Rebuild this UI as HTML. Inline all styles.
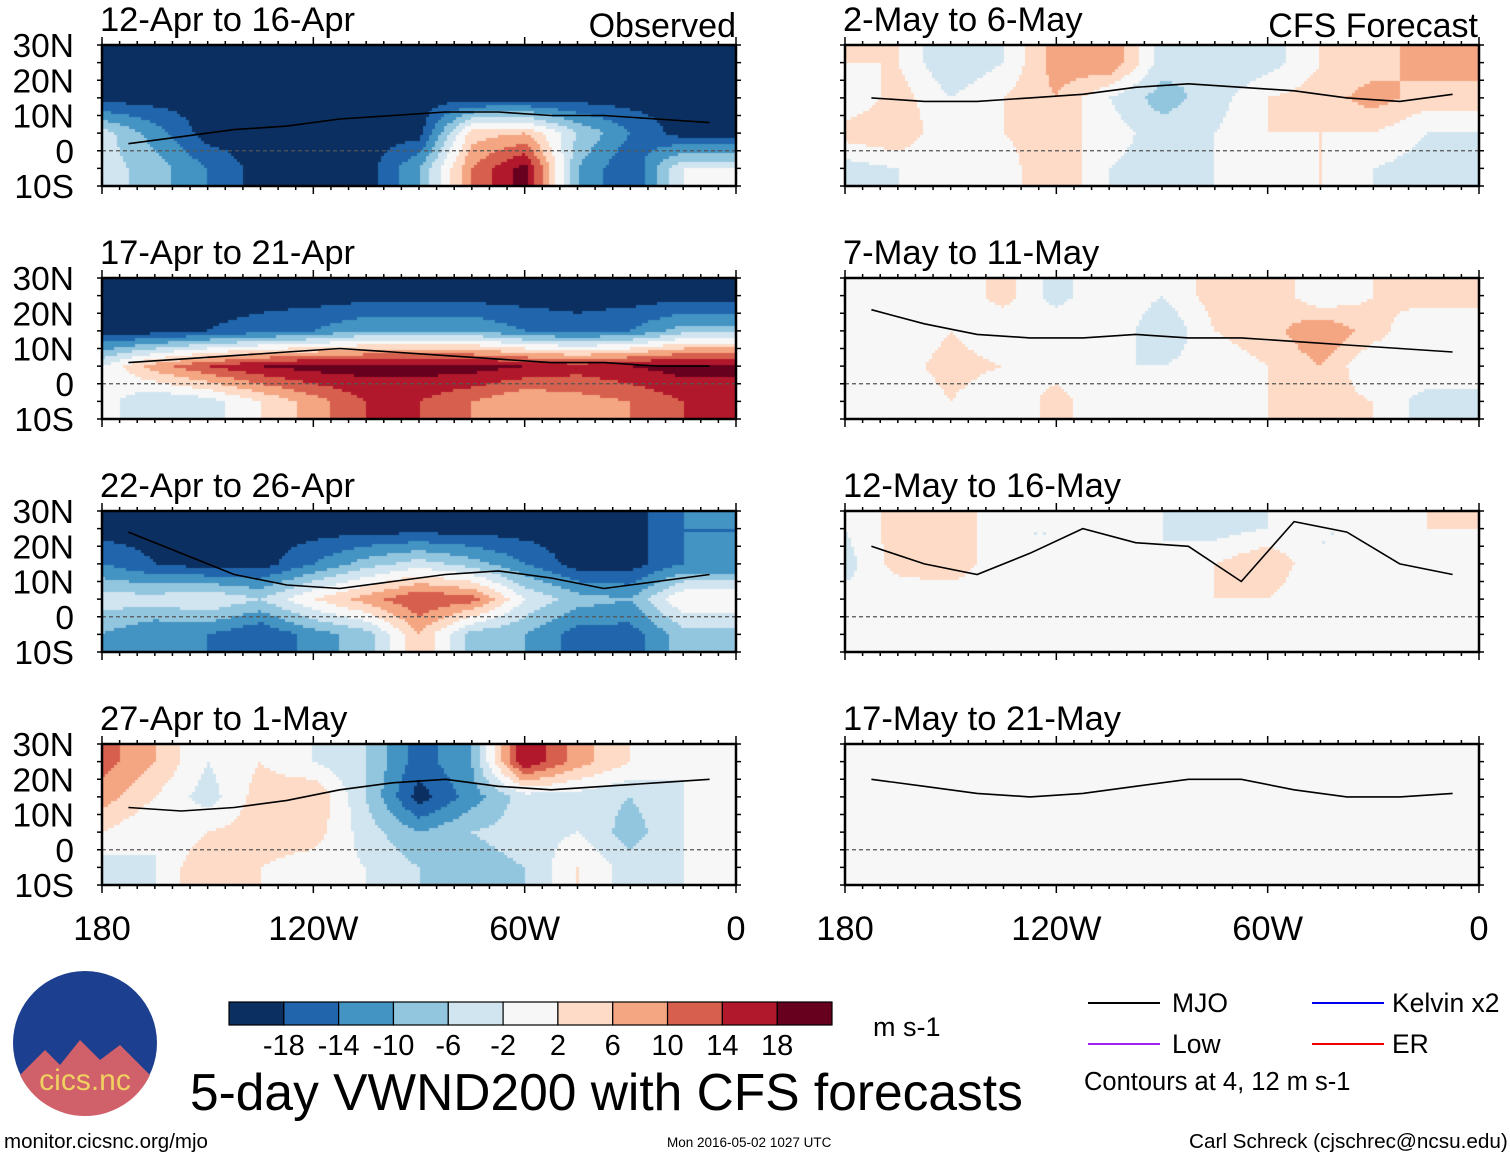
<!DOCTYPE html>
<html><head><meta charset="utf-8">
<style>
body{margin:0;background:#fff;font-family:"Liberation Sans",sans-serif;}
#wrap{position:relative;width:1510px;height:1158px;overflow:hidden;background:#fff;}
.t{position:absolute;color:#000;white-space:nowrap;}
canvas{position:absolute;}
</style></head><body>
<div id="wrap">
<svg id="ov" width="1510" height="1158" style="position:absolute;left:0;top:0;z-index:2"></svg>
<div class="t" style="left:190px;top:1062px;font-size:51.5px;z-index:3">5-day VWND200 with CFS forecasts</div>
<div class="t" style="left:873px;top:1012px;font-size:27px;z-index:3">m s-1</div>
<div class="t" style="left:4px;top:1130px;font-size:20.5px;z-index:3">monitor.cicsnc.org/mjo</div>
<div class="t" style="left:667px;top:1135px;font-size:13.5px;z-index:3">Mon 2016-05-02 1027 UTC</div>
<div class="t" style="left:1189px;top:1130px;font-size:20.7px;z-index:3">Carl Schreck (cjschrec@ncsu.edu)</div>
<div class="t" style="left:1172px;top:988px;font-size:26.5px;z-index:3">MJO</div>
<div class="t" style="left:1392px;top:988px;font-size:26.5px;z-index:3">Kelvin x2</div>
<div class="t" style="left:1172px;top:1029px;font-size:26.5px;z-index:3">Low</div>
<div class="t" style="left:1392px;top:1029px;font-size:26.5px;z-index:3">ER</div>
<div class="t" style="left:1084px;top:1068px;font-size:25.5px;z-index:3">Contours at 4, 12 m s-1</div>
</div>
<script>
const lonCats=[180,165,150,135,120,105,90,75,60,45,30,15];
const latRows=[25,15,5,-5];
const titles=["12-Apr to 16-Apr","17-Apr to 21-Apr","22-Apr to 26-Apr","27-Apr to 1-May","2-May to 6-May","7-May to 11-May","12-May to 16-May","17-May to 21-May"];
const p1=[[-20,-20,-20,-20,-20,-20,-20,-20,-20,-20,-20,-20],[-20,-20,-20,-20,-20,-20,-20,-20,-20,-20,-20,-20],[-4,-12,-20,-20,-20,-20,-20,4,6,-6,-14,-20],[-4,-8,-14,-20,-20,-20,-10,10,20,-10,-18,-2]];
const p2=[[-20,-20,-20,-20,-20,-20,-20,-20,-20,-20,-20,-20],[-20,-20,-18,-16,-14,-10,-10,-10,-14,-16,-14,-8],[-2,8,14,18,20,20,20,20,18,16,18,20],[0,-6,-4,2,8,14,14,10,6,8,10,14]];
const p3=[[-20,-20,-20,-20,-20,-20,-20,-20,-20,-20,-20,-14],[-14,-18,-20,-20,-14,-8,-4,-8,-14,-20,-20,-14],[-4,-4,-2,-6,2,8,14,12,-2,-8,-10,2],[-10,-14,-14,-18,-12,-8,6,-8,-10,-16,-16,-8]];
const p4=[[12,6,-2,2,-2,-6,-16,-10,18,8,2,-2],[8,2,-4,4,6,-6,-20,-12,-4,-4,-6,-2],[2,-2,2,4,4,-4,-10,-6,-4,-2,-8,-2],[-4,-2,6,2,0,-2,-6,-8,-6,2,-4,-2]];
const p5=[[2,2,-6,-2,8,10,-4,-6,-4,2,4,8],[-2,4,-2,2,6,-2,-8,-4,2,4,8,4],[4,6,-2,2,4,0,-4,-2,2,2,2,-2],[-4,-2,-2,0,6,-2,-4,-2,-2,2,-2,-4]];
const p6=[[-2,2,-2,4,-4,2,-2,4,6,-2,2,4],[-2,-2,2,-2,2,2,-6,2,4,10,4,-2],[-2,0,4,2,0,-2,-2,0,2,6,-2,2],[0,-2,2,-2,4,-2,2,-2,2,4,2,-4]];
const p7=[[-2,4,6,-2,-2,2,-2,-4,-2,-2,-2,2],[-4,4,6,-2,-2,0,-2,2,6,-2,-2,-2],[0,-2,-2,-2,0,-2,-2,2,2,-2,-2,0],[0,0,-2,0,-2,0,-2,-2,0,0,-2,0]];
const p8=[[0,2,0,0,0,-2,0,2,0,0,-2,0],[-2,0,-2,0,0,0,-2,-2,0,0,0,0],[0,0,0,-2,0,0,2,0,0,0,0,0],[0,0,0,0,2,0,0,0,0,-2,0,0]];
const fields=[p1,p2,p3,p4,p5,p6,p7,p8];
const mjo1=[2,4,6,7,9,10,11,11,10,10,9,8];
const mjo2=[6,7,8,9,10,9,8,7,6,6,5,5];
const mjo3=[24,18,12,9,8,10,12,13,11,8,10,12];
const mjo4=[12,11,12,14,17,19,20,18,17,18,19,20];
const mjo5=[15,14,14,15,16,18,19,18,17,15,14,16];
const mjo6=[21,17,14,13,13,14,13,13,12,11,10,9];
const mjo7=[20,15,12,18,25,21,20,10,27,24,15,12];
const mjo8=[20,18,16,15,16,18,20,20,17,15,15,16];
const mjos=[mjo1,mjo2,mjo3,mjo4,mjo5,mjo6,mjo7,mjo8];
const cbLevels=[-18,-14,-10,-6,-2,2,6,10,14,18];
const cbColors=["#0b2f60","#2166ac","#4393c3","#92c5de","#d1e5f0","#f7f7f7","#fddbc7","#f4a582","#d6604d","#b2182b","#67001f"];
const latTicks=["30N","20N","10N","0","10S"];
const lonTicks=["180","120W","60W","0"];

const NS="http://www.w3.org/2000/svg";
const ov=document.getElementById('ov');
const wrap=document.getElementById('wrap');
const PW=634,PH=141;
const panelX=[102,845], panelY=[45,278,511,744];
function xs(lon,x0){return x0+(180-lon)/180*PW;}
function ys(lat,y0){return y0+(30-lat)/40*PH;}
function colorOf(v){let i=0;while(i<cbLevels.length&&v>=cbLevels[i])i++;return cbColors[i];}
function sample(f,lon,lat){
  let fi=(180-lon)/15, fj=(25-lat)/10;
  fi=Math.max(0,Math.min(11,fi));fj=Math.max(0,Math.min(3,fj));
  const i0=Math.min(10,Math.floor(fi)),j0=Math.min(2,Math.floor(fj));
  const a=fi-i0,b=fj-j0;
  return f[j0][i0]*(1-a)*(1-b)+f[j0][i0+1]*a*(1-b)+f[j0+1][i0]*(1-a)*b+f[j0+1][i0+1]*a*b;
}
function mk(tag,attrs,name){const e=document.createElementNS(NS,tag);for(const k in attrs)e.setAttribute(k,attrs[k]);
  
  
  ov.appendChild(e);return e;}
for(let p=0;p<8;p++){
  const x0=panelX[p<4?0:1], y0=panelY[p%4];
  const cv=document.createElement('canvas');cv.width=PW;cv.height=PH;
  cv.style.left=x0+'px';cv.style.top=y0+'px';
  
  
  wrap.appendChild(cv);
  const ctx=cv.getContext('2d');const s=3;
  for(let px=0;px<PW;px+=s)for(let py=0;py<PH;py+=s){
    const lon=180-(px+s/2)/PW*180, lat=30-(py+s/2)/PH*40;
    ctx.fillStyle=colorOf(sample(fields[p],lon,lat));ctx.fillRect(px,py,s,s);
  }
  mk('line',{x1:x0,x2:x0+PW,y1:ys(0,y0),y2:ys(0,y0),stroke:'#555','stroke-dasharray':'4,3','stroke-width':1.2},'equator-line');
  const m=mjos[p];let d='';
  m.forEach((la,i)=>{d+=(i?'L':'M')+xs(lonCats[i]-7.5,x0).toFixed(1)+','+ys(la,y0).toFixed(1);});
  mk('path',{d:d,fill:'none',stroke:'#000','stroke-width':1.6},'mjo-contour');
  mk('rect',{x:x0,y:y0,width:PW,height:PH,fill:'none',stroke:'#000','stroke-width':2.5},'panel-frame');
  for(let k=0;k<=36;k++){const tx=x0+k*PW/36;const L=k%12==0?8:4;
    mk('line',{x1:tx,x2:tx,y1:y0,y2:y0-L,stroke:'#000','stroke-width':1.5},'tick');
    mk('line',{x1:tx,x2:tx,y1:y0+PH,y2:y0+PH+L,stroke:'#000','stroke-width':1.5},'tick');}
  for(let k=0;k<=8;k++){const ty=y0+k*PH/8;
    mk('line',{x1:x0,x2:x0-5,y1:ty,y2:ty,stroke:'#000','stroke-width':1.5},'tick');
    mk('line',{x1:x0+PW,x2:x0+PW+5,y1:ty,y2:ty,stroke:'#000','stroke-width':1.5},'tick');}
  const tt=mk('text',{x:x0-2,y:y0-14,'font-size':34.5,'font-family':'Liberation Sans'},'panel-title');tt.textContent=titles[p];
  if(p<4){latTicks.forEach((l,k)=>{const e=mk('text',{x:74,y:y0+k*PH/4+12,'font-size':33.5,'text-anchor':'end','font-family':'Liberation Sans'},'lat-label');e.textContent=l;});}
}
let e=mk('text',{x:736,y:37,'font-size':34,'text-anchor':'end','font-family':'Liberation Sans'},'observed-label');e.textContent='Observed';
e=mk('text',{x:1478,y:37,'font-size':34,'text-anchor':'end','font-family':'Liberation Sans'},'forecast-label');e.textContent='CFS Forecast';
[102,845].forEach(x0=>lonTicks.forEach((l,k)=>{const t=mk('text',{x:x0+k*PW/3,y:940,'font-size':34.5,'text-anchor':'middle','font-family':'Liberation Sans'},'lon-label');t.textContent=l;}));
const cbX=229,cbW=603/11;
cbColors.forEach((c,i)=>mk('rect',{x:cbX+i*cbW,y:1002,width:cbW,height:23,fill:c,stroke:'#000','stroke-width':1.2},'colorbar-box'));
cbLevels.forEach((v,i)=>{const t=mk('text',{x:cbX+(i+1)*cbW,y:1055,'font-size':29,'text-anchor':'middle','font-family':'Liberation Sans'},'colorbar-label');t.textContent=v;});
[[1088,1003,'#000'],[1312,1003,'#0000ee'],[1088,1044,'#a020f0'],[1312,1044,'#ee0000']].forEach(a=>mk('line',{x1:a[0],x2:a[0]+72,y1:a[1],y2:a[1],stroke:a[2],'stroke-width':2},'legend-line'));
mk('circle',{cx:85,cy:1043,r:72,fill:'#1d3f8f'},'cics-logo');
mk('path',{d:'M20,1075 L45,1050 L60,1065 L80,1040 L100,1060 L120,1045 L150,1075 A72,72 0 0 1 20,1075Z',fill:'#d0606a'},'logo-mountains');
e=mk('text',{x:85,y:1090,'font-size':30,'text-anchor':'middle',fill:'#f0d060','font-family':'Liberation Sans'},'logo-text');e.textContent='cics.nc';
</script>
</body></html>
